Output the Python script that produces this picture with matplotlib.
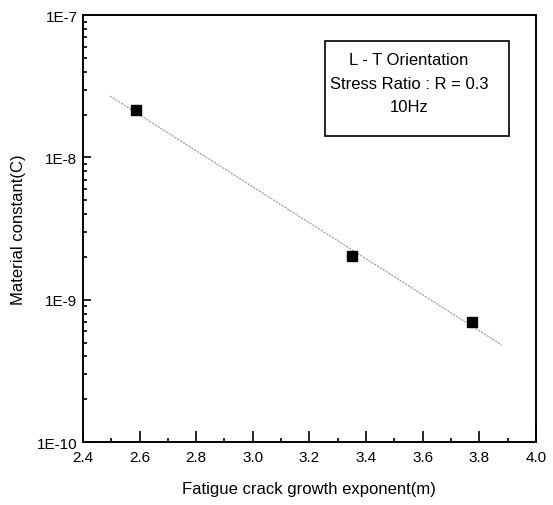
import matplotlib.pyplot as plt
import numpy as np
from matplotlib.patches import Rectangle
from matplotlib.ticker import FixedLocator, FuncFormatter, LogLocator, NullFormatter, MultipleLocator

# dati
m_values = [2.587, 3.35, 3.775]
c_values = [2.15e-8, 2.02e-9, 6.97e-10]
fit_range = [2.495, 3.88]
box_lines = ["L - T Orientation", "Stress Ratio : R = 0.3", "10Hz"]

plt.rcParams['font.family'] = ['Liberation Sans', 'DejaVu Sans']

fig = plt.figure(figsize=(5.53, 5.06), dpi=100)
ax = fig.add_axes([0.150, 0.1245, 0.819, 0.8435])

# retta di regressione su log10(C)
slope, intercept = np.polyfit(m_values, np.log10(c_values), 1)
xf = np.linspace(fit_range[0], fit_range[1], 50)
ax.plot(xf, 10 ** (slope * xf + intercept), color='#999999', lw=0.8, ls=(0, (2, 1)))

ax.plot(m_values, c_values, 's', color='black', ms=6.5)

ax.set_yscale('log')
ax.set_xlim(2.4, 4.0)
ax.set_ylim(1e-10, 1e-7)

ax.xaxis.set_major_locator(MultipleLocator(0.2))
ax.xaxis.set_minor_locator(MultipleLocator(0.1))
ax.xaxis.set_major_formatter(FuncFormatter(lambda v, p: f"{v:.1f}"))
ax.yaxis.set_major_locator(FixedLocator([1e-10, 1e-9, 1e-8, 1e-7]))
ax.yaxis.set_major_formatter(FuncFormatter(lambda v, p: f"1E{int(round(np.log10(v)))}"))
ax.yaxis.set_minor_locator(LogLocator(base=10, subs=np.arange(2, 10)))
ax.yaxis.set_minor_formatter(NullFormatter())

ax.tick_params(which='both', direction='in', top=False, right=False, labelsize=11, width=1.2)
ax.tick_params(axis='x', which='major', length=8, pad=6)
ax.tick_params(axis='y', which='major', length=6, pad=4)
ax.tick_params(which='minor', length=3)
for s in ax.spines.values():
    s.set_linewidth(1.4)

ax.set_xlabel("Fatigue crack growth exponent(m)", fontsize=12, labelpad=12)
ax.set_ylabel("Material constant(C)", fontsize=12, labelpad=8)

# riquadro con le condizioni di prova
ax.add_patch(Rectangle((0.534, 0.717), 0.406, 0.222, transform=ax.transAxes,
                       fc='white', ec='black', lw=1.2, zorder=3))
for txt, ty in zip(box_lines, [0.896, 0.84, 0.787]):
    ax.text(0.72, ty, txt, transform=ax.transAxes, ha='center', va='center',
            fontsize=12, zorder=4)

fig.savefig("out.png", dpi=100)
